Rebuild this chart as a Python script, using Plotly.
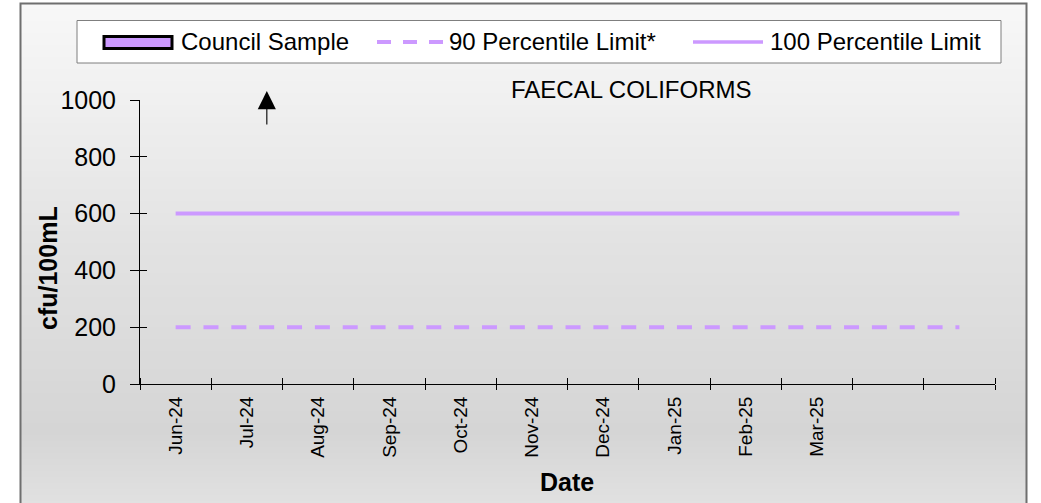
import plotly.graph_objects as go

# ---------------- data ----------------
months = ["Jun-24", "Jul-24", "Aug-24", "Sep-24", "Oct-24", "Nov-24",
          "Dec-24", "Jan-25", "Feb-25", "Mar-25", "", ""]
council_sample = [None, None, None, None, None, None,
                  None, None, None, None, None, None]
limit_90 = [200, 200, 200, 200, 200, 200, 200, 200, 200, 200, 200, 200]
limit_100 = [600, 600, 600, 600, 600, 600, 600, 600, 600, 600, 600, 600]
y_ticks = [0, 200, 400, 600, 800, 1000]
offscale_pos = 1.28      # off-scale sample (> 1000) marked with arrow, Jul-24

# ---------------- styling helpers ----------------
W, H = 1041, 503
PURPLE = "#cc99ff"
FONT = "Liberation Sans, Arial, sans-serif"


def px(x):
    return x / W


def py(y):
    return 1 - y / H


idx = list(range(len(months)))
bounds = [i - 0.5 for i in range(len(months) + 1)]

fig = go.Figure()
fig.add_trace(go.Bar(x=idx, y=council_sample, name="Council Sample",
                     marker=dict(color=PURPLE, line=dict(color="black", width=2)),
                     showlegend=False))
fig.add_trace(go.Scatter(x=idx, y=limit_90, name="90 Percentile Limit*", mode="lines",
                         line=dict(color=PURPLE, width=4, dash="15px,12.85px"),
                         showlegend=False))
fig.add_trace(go.Scatter(x=idx, y=limit_100, name="100 Percentile Limit", mode="lines",
                         line=dict(color=PURPLE, width=4), showlegend=False))
# helper trace for the overlay axes (inner half of crossing tick marks)
fig.add_trace(go.Scatter(x=[None], y=[None], xaxis="x2", yaxis="y2",
                         showlegend=False, hoverinfo="skip"))

shapes = []


def grey_at(y):
    stops = [(3, 248), (120, 238), (250, 226), (430, 213), (520, 228)]
    for (y0, c0), (y1, c1) in zip(stops[:-1], stops[1:]):
        if y <= y1:
            t = (y - y0) / (y1 - y0)
            return c0 + (c1 - c0) * t
    return stops[-1][1]


band = 6
y = 3
while y < H:
    c = int(round(grey_at(y + band / 2)))
    shapes.append(dict(type="rect", xref="paper", yref="paper", layer="below",
                       x0=px(21), x1=px(1026), y0=py(y), y1=py(min(y + band, H) + 0.5),
                       fillcolor=f"rgb({c},{c},{c})", line=dict(width=0)))
    y += band
# chart frame
shapes.append(dict(type="rect", xref="paper", yref="paper", layer="above",
                   x0=px(20.5), x1=px(1026.5), y0=py(3.5), y1=py(515),
                   line=dict(color="#6f6f6f", width=2), fillcolor="rgba(0,0,0,0)"))
# legend box and swatches
shapes.append(dict(type="rect", xref="paper", yref="paper", layer="above",
                   x0=px(77), x1=px(1001), y0=py(20.5), y1=py(63),
                   line=dict(color="#7f7f7f", width=1), fillcolor="white"))
shapes.append(dict(type="rect", xref="paper", yref="paper", layer="above",
                   x0=px(104), x1=px(172), y0=py(36.5), y1=py(48.5),
                   line=dict(color="black", width=3), fillcolor=PURPLE))
shapes.append(dict(type="line", xref="paper", yref="paper", layer="above",
                   x0=px(377), x1=px(446), y0=py(42), y1=py(42),
                   line=dict(color=PURPLE, width=4, dash="14px,12px")))
shapes.append(dict(type="line", xref="paper", yref="paper", layer="above",
                   x0=px(693), x1=px(763), y0=py(42), y1=py(42),
                   line=dict(color=PURPLE, width=3.5)))

annotations = [
    dict(text="Council Sample", x=px(179), y=py(42), xref="paper", yref="paper",
         xanchor="left", yanchor="middle", showarrow=False,
         font=dict(family=FONT, size=24, color="black")),
    dict(text="90 Percentile Limit*", x=px(447), y=py(42), xref="paper", yref="paper",
         xanchor="left", yanchor="middle", showarrow=False,
         font=dict(family=FONT, size=24, color="black")),
    dict(text="100 Percentile Limit", x=px(768), y=py(42), xref="paper", yref="paper",
         xanchor="left", yanchor="middle", showarrow=False,
         font=dict(family=FONT, size=24, color="black")),
    dict(text="FAECAL COLIFORMS", x=px(631), y=py(89), xref="paper", yref="paper",
         xanchor="center", yanchor="middle", showarrow=False,
         font=dict(family=FONT, size=24, color="black")),
    dict(text="<b>cfu/100mL</b>", x=px(48), y=py(268), xref="paper", yref="paper",
         xanchor="center", yanchor="middle", showarrow=False, textangle=-90,
         font=dict(family=FONT, size=25, color="black")),
    dict(text="<b>Date</b>", x=px(567), y=py(482), xref="paper", yref="paper",
         xanchor="center", yanchor="middle", showarrow=False,
         font=dict(family=FONT, size=25, color="black")),
    dict(text="", x=offscale_pos, y=py(91), xref="x", yref="paper",
         showarrow=True, ax=0, ay=35, arrowhead=2, arrowsize=3.3, arrowwidth=1.1,
         arrowcolor="black", standoff=0),
]

x_dom = [px(140), px(995)]
y_dom = [py(384), py(100)]

fig.update_layout(
    width=W, height=H,
    margin=dict(l=0, r=0, t=0, b=0, autoexpand=False),
    paper_bgcolor="white",
    plot_bgcolor="rgba(0,0,0,0)",
    showlegend=False,
    bargap=0.4,
    font=dict(family=FONT, color="black"),
    shapes=shapes,
    annotations=annotations,
    xaxis=dict(domain=x_dom, range=[-0.5, len(months) - 0.5], anchor="y",
               tickmode="array", tickvals=idx, ticktext=months, ticks="",
               tickangle=-90, tickfont=dict(family=FONT, size=19, color="black"),
               ticklabelstandoff=4,
               minor=dict(tickmode="array", tickvals=bounds, ticks="outside",
                          ticklen=5, tickcolor="black", tickwidth=1),
               showline=True, linecolor="black", linewidth=1,
               showgrid=False, zeroline=False, fixedrange=True),
    yaxis=dict(domain=y_dom, range=[0, 1000], anchor="x",
               tickmode="array", tickvals=y_ticks, ticks="outside", ticklen=9,
               tickcolor="black", tickwidth=1,
               tickfont=dict(family=FONT, size=25, color="black"),
               ticklabelstandoff=9,
               showline=True, linecolor="black", linewidth=1,
               showgrid=False, zeroline=False, fixedrange=True),
    xaxis2=dict(domain=x_dom, range=[-0.5, len(months) - 0.5], anchor="y2",
                overlaying="x", showticklabels=False, ticks="",
                minor=dict(tickmode="array", tickvals=bounds, ticks="inside",
                           ticklen=6, tickcolor="black", tickwidth=1),
                showline=False, showgrid=False, zeroline=False),
    yaxis2=dict(domain=y_dom, range=[0, 1000], anchor="x2", overlaying="y",
                tickmode="array", tickvals=y_ticks, ticks="inside", ticklen=7,
                tickcolor="black", tickwidth=1, showticklabels=False,
                showline=False, showgrid=False, zeroline=False),
)

fig.write_html("out.html",
               config={"displayModeBar": False, "staticPlot": True},
               post_script="document.body.style.margin='0';document.body.style.overflow='hidden';")
